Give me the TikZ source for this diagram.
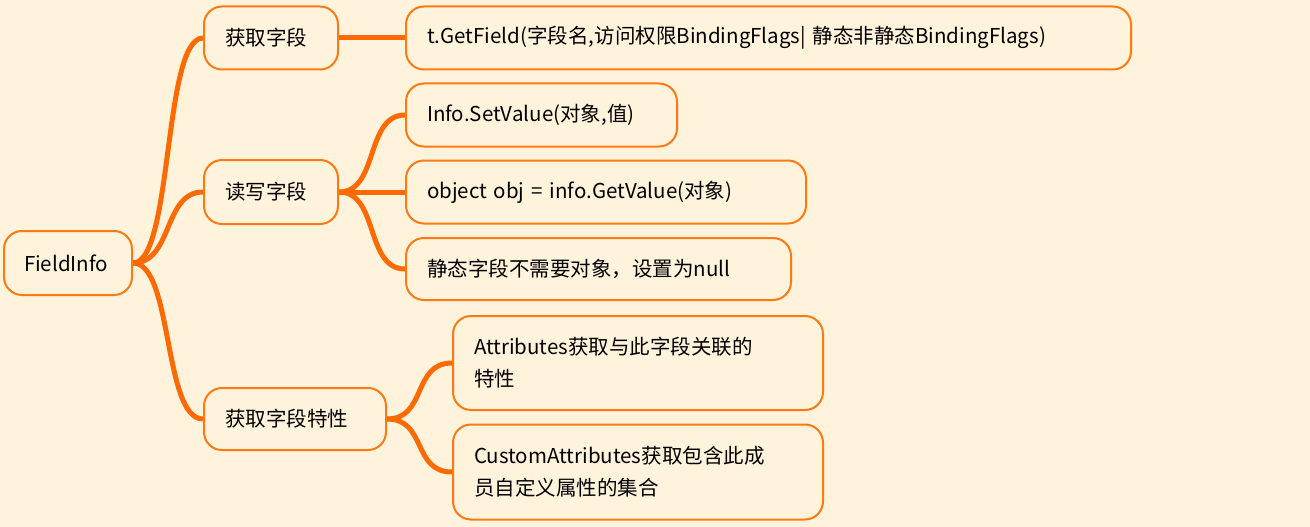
\documentclass[tikz,border=0pt]{standalone}
\usepackage{fontspec}
\setmainfont{Noto Sans CJK SC}
\definecolor{bg}{HTML}{FFF3DC}
\definecolor{org}{HTML}{FF7A12}
\definecolor{lnk}{HTML}{FF6A00}
\begin{document}
\begin{tikzpicture}[x=1pt,y=-1pt,
  box/.style={draw=org,line width=2pt,fill=bg,rounded corners=18pt,anchor=west,font=\fontsize{20.5}{32}\selectfont,align=left,inner xsep=21pt,inner ysep=0pt,text width=#1-42pt},
  link/.style={draw=lnk,line width=5pt}]
\fill[bg] (0,0) rectangle (1310,527);
\useasboundingbox (0,0) rectangle (1310,527);
\node[box=130pt,minimum height=64,inner xsep=20pt] (root) at (3,263) {FieldInfo};
\node[box=134pt,minimum height=63] (a) at (203,38) {获取字段};
\node[box=134pt,minimum height=64] (b) at (203,192) {读写字段};
\node[box=182pt,minimum height=62] (c) at (203,419) {获取字段特性};
\node[box=725pt,minimum height=63] (a1) at (405,38) {t.GetField(字段名,访问权限BindingFlags| 静态非静态BindingFlags)};
\node[box=271pt,minimum height=63] (b1) at (405,115) {Info.SetValue(对象,值)};
\node[box=400pt,minimum height=63] (b2) at (405,192) {object obj = info.GetValue(对象)};
\node[box=385pt,minimum height=62] (b3) at (405,269) {静态字段不需要对象，设置为null};
\node[box=370pt,minimum height=94] (c1) at (452,363) {Attributes获取与此字段关联的\\特性};
\node[box=370pt,minimum height=95] (c2) at (452,472) {CustomAttributes获取包含此成\\员自定义属性的集合};
\foreach \p/\c in {root/a,root/b,root/c,a/a1,b/b1,b/b2,b/b3,c/c1,c/c2}{
  \draw[link] (\p.east) .. controls ([xshift=40]\p.east) and ([xshift=-40]\c.west) .. (\c.west);
}
\end{tikzpicture}
\end{document}
